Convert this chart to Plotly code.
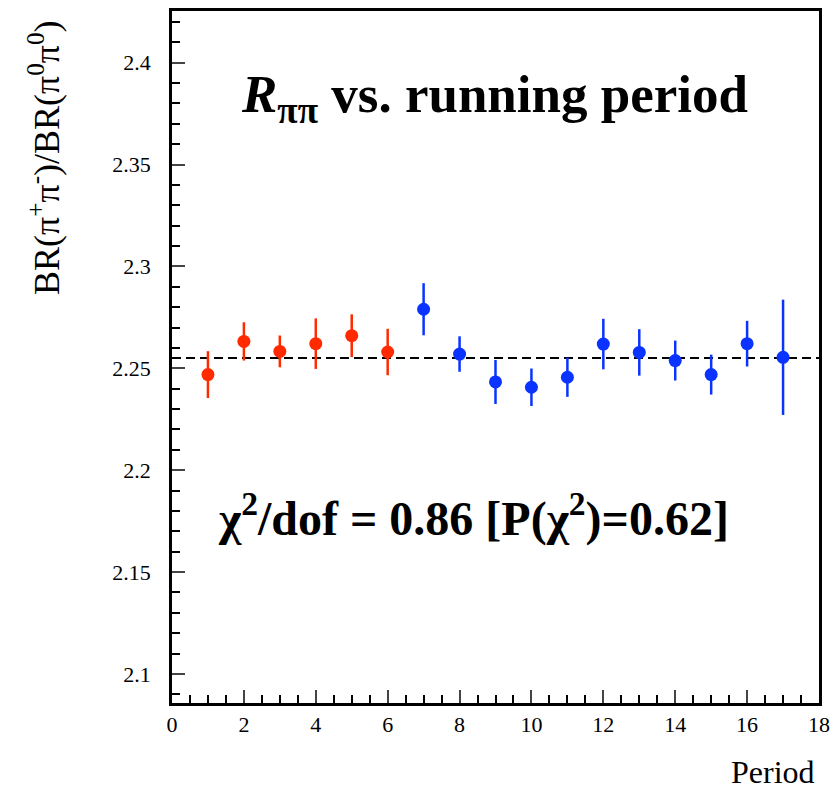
import plotly.graph_objects as go

# Data
period_red = [1, 2, 3, 4, 5, 6]
ratio_red = [2.2469, 2.2632, 2.2583, 2.2621, 2.2660, 2.2580]
err_red = [0.0115, 0.0094, 0.0078, 0.0124, 0.0105, 0.0114]

period_blue = [7, 8, 9, 10, 11, 12, 13, 14, 15, 16, 17]
ratio_blue = [2.2790, 2.2570, 2.2433, 2.2407, 2.2456, 2.2619, 2.2578, 2.2538, 2.2469, 2.2621, 2.2554]
err_blue = [0.0128, 0.0087, 0.0108, 0.0092, 0.0096, 0.0124, 0.0114, 0.0098, 0.0098, 0.0112, 0.0283]

mean_ratio = 2.255

x_ticks = [0, 2, 4, 6, 8, 10, 12, 14, 16, 18]
y_ticks = [2.1, 2.15, 2.2, 2.25, 2.3, 2.35, 2.4]
y_ticktext = ["2.1", "2.15", "2.2", "2.25", "2.3", "2.35", "2.4"]

RED = "#ff2a00"
BLUE = "#0a33ff"
SERIF = "Liberation Serif"

fig = go.Figure()
fig.add_trace(go.Scatter(
    x=period_red, y=ratio_red, mode="markers",
    marker=dict(color=RED, size=13, symbol="circle"),
    error_y=dict(type="data", array=err_red, color=RED, thickness=2.5, width=0),
    showlegend=False,
))
fig.add_trace(go.Scatter(
    x=period_blue, y=ratio_blue, mode="markers",
    marker=dict(color=BLUE, size=13, symbol="circle"),
    error_y=dict(type="data", array=err_blue, color=BLUE, thickness=2.5, width=0),
    showlegend=False,
))

fig.add_shape(type="line", xref="paper", x0=0, x1=1, yref="y", y0=mean_ratio, y1=mean_ratio,
              line=dict(color="black", width=2, dash="9px,5px"), layer="below")

fig.update_layout(
    width=838, height=792,
    margin=dict(l=172, r=13, t=8, b=89),
    plot_bgcolor="white", paper_bgcolor="white",
    font=dict(family=SERIF, color="black"),
    xaxis=dict(
        range=[0, 18], tickvals=x_ticks, ticks="inside", ticklen=13, tickwidth=2,
        showline=True, linewidth=2.5, linecolor="black", mirror=True, showgrid=False, zeroline=False,
        tickfont=dict(family=SERIF, size=22), ticklabelstandoff=0,
        minor=dict(dtick=0.5, ticks="inside", ticklen=8, tickwidth=2, tickcolor="black", showgrid=False),
    ),
    yaxis=dict(
        range=[2.0857, 2.4254], tickvals=y_ticks, ticktext=y_ticktext, ticks="inside", ticklen=13, tickwidth=2,
        showline=True, linewidth=2.5, linecolor="black", mirror=True, showgrid=False, zeroline=False,
        tickfont=dict(family=SERIF, size=22), ticklabelstandoff=14,
        minor=dict(dtick=0.01, tick0=2.1, ticks="inside", ticklen=8, tickwidth=2, tickcolor="black", showgrid=False),
    ),
)

fig.add_annotation(
    text="BR(π<sup>+</sup>π<sup>-</sup>)/BR(π<sup>0</sup>π<sup>0</sup>)",
    xref="paper", yref="paper", x=-0.197, y=0.99, xanchor="center", yanchor="top",
    textangle=-90, showarrow=False, font=dict(family=SERIF, size=36, color="black"),
)
fig.add_annotation(
    text="Period", xref="paper", yref="paper", x=0.997, y=-0.10, xanchor="right", yanchor="middle",
    showarrow=False, font=dict(family=SERIF, size=32, color="black"),
)
fig.add_annotation(
    text="<b><i>R</i><sub>ππ</sub> vs. running period</b>", xref="paper", yref="paper",
    x=0.498, y=0.875, xanchor="center", yanchor="middle",
    showarrow=False, font=dict(family=SERIF, size=53, color="black"),
)
fig.add_annotation(
    text="<b>χ<sup>2</sup>/dof = 0.86 [P(χ<sup>2</sup>)=0.62]</b>", xref="paper", yref="paper",
    x=0.4655, y=0.2705, xanchor="center", yanchor="middle",
    showarrow=False, font=dict(family=SERIF, size=48, color="black"),
)

fig.write_html("out.html")
